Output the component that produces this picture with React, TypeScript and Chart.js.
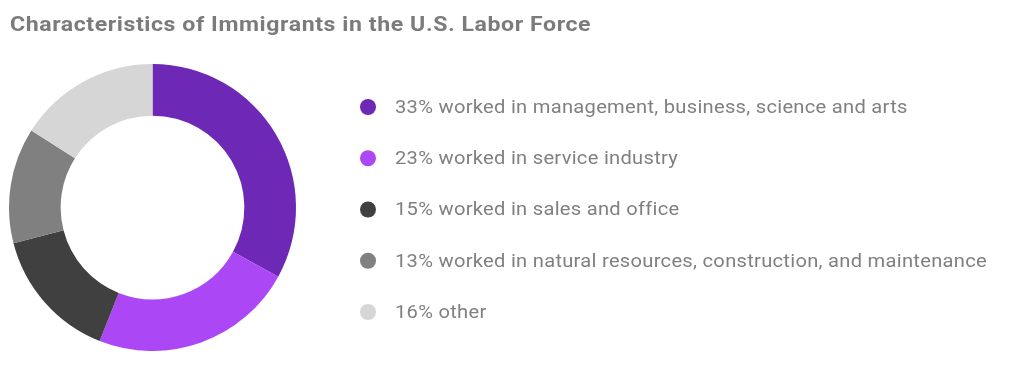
import React, { useEffect, useRef } from "react";
import { Chart, registerables } from "chart.js";

Chart.register(...registerables);

const TITLE = "Characteristics of Immigrants in the U.S. Labor Force";
const categories = [
  "worked in management, business, science and arts",
  "worked in service industry",
  "worked in sales and office",
  "worked in natural resources, construction, and maintenance",
  "other",
];
const shares = [33, 23, 15, 13, 16];
const colors = ["#6D29B6", "#AB47F5", "#404040", "#808080", "#D6D6D6"];

const TEXT_COLOR = "#808080";

function wideText(ctx: any, text: string, x: number, y: number, sx: number) {
  ctx.save();
  ctx.translate(x, y);
  ctx.scale(sx, 1);
  ctx.fillText(text, 0, 0);
  ctx.restore();
}

const sideLegend = {
  id: "sideLegend",
  afterDraw(chart: any) {
    const ctx = chart.ctx as any;
    ctx.save();
    // title
    ctx.fillStyle = "#7b7b7b";
    ctx.font = "bold 21px Roboto";
    ctx.letterSpacing = "0.52px";
    ctx.textBaseline = "alphabetic";
    ctx.textAlign = "left";
    wideText(ctx, TITLE, 2, 23, 1.1);
    // legend
    const labels = chart.data.labels as string[];
    const ds = chart.data.datasets[0];
    const x0 = 360;
    const y0 = 99;
    const step = 51.25;
    ctx.font = "19px Roboto";
    ctx.letterSpacing = "0.26px";
    ctx.textBaseline = "middle";
    labels.forEach((lab, i) => {
      const y = y0 + i * step;
      ctx.beginPath();
      ctx.fillStyle = ds.backgroundColor[i];
      ctx.arc(x0, y, 8, 0, Math.PI * 2);
      ctx.fill();
      ctx.fillStyle = TEXT_COLOR;
      wideText(ctx, `${ds.data[i]}% ${lab}`, x0 + 27, y + 1, 1.06);
    });
    ctx.restore();
  },
};

export default function App() {
  const ref = useRef<HTMLCanvasElement | null>(null);
  useEffect(() => {
    if (!ref.current) return;
    const chart = new Chart(ref.current, {
      type: "doughnut",
      data: {
        labels: categories,
        datasets: [
          {
            data: shares,
            backgroundColor: colors,
            borderWidth: 0,
            hoverOffset: 0,
          },
        ],
      },
      options: {
        animation: false,
        responsive: true,
        maintainAspectRatio: false,
        cutout: "64%",
        layout: { padding: { left: 1, top: 56, right: 720, bottom: 16 } },
        plugins: {
          legend: { display: false },
          title: { display: false },
          tooltip: { enabled: false },
        },
      },
      plugins: [sideLegend],
    });
    return () => chart.destroy();
  }, []);
  return (
    <div style={{ position: "relative", width: 1008, height: 359 }}>
      <canvas ref={ref} />
    </div>
  );
}
